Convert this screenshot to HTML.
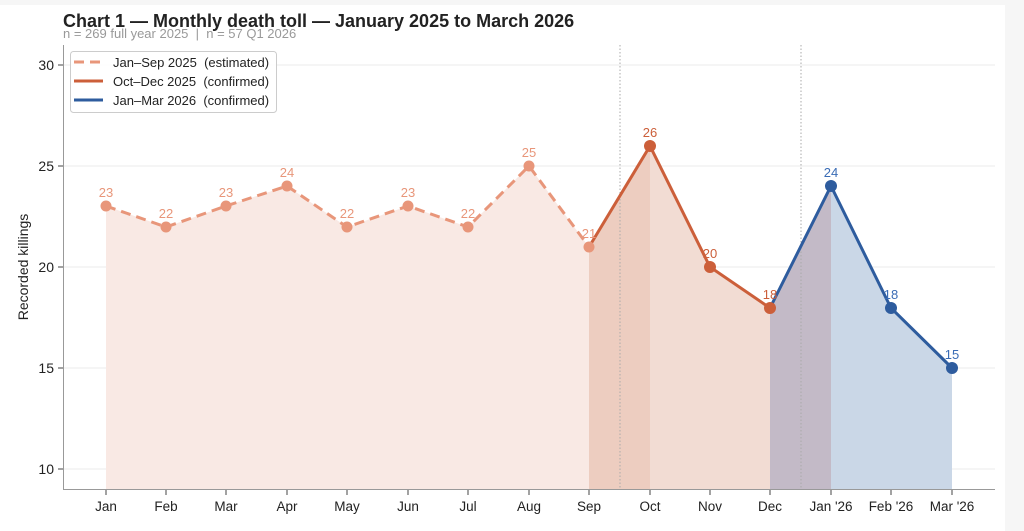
<!DOCTYPE html><html><head><meta charset="utf-8"><style>body{margin:0;background:#f6f6f6;font-family:"Liberation Sans",sans-serif}text{white-space:pre}</style></head><body>
<svg width="1024" height="531" style="position:absolute;left:0;top:0" font-family="Liberation Sans, sans-serif" xml:space="preserve">
<rect x="0" y="5" width="1005" height="526" fill="#fff"/>
<text x="63" y="27" font-size="18" font-weight="bold" fill="#222">Chart 1 — Monthly death toll — January 2025 to March 2026</text>
<text x="63" y="38" font-size="13" fill="#999">n = 269 full year 2025  |  n = 57 Q1 2026</text>
<g stroke="#ebebeb" stroke-width="1"><line x1="63" x2="995" y1="65" y2="65"/><line x1="63" x2="995" y1="166" y2="166"/><line x1="63" x2="995" y1="267" y2="267"/><line x1="63" x2="995" y1="368" y2="368"/><line x1="63" x2="995" y1="469" y2="469"/></g>
<polygon points="106,489 106,206 166,227 226,206 287,186 347,227 408,206 468,227 529,166 589,247 589,489" fill="#f9e9e4"/>
<polygon points="589,489 589,247 650,146 650,489" fill="#edcdc0"/>
<polygon points="650,489 650,146 710,267 770,308 770,489" fill="#f2dcd3"/>
<polygon points="770,489 770,308 831,186 831,489" fill="#c3bac7"/>
<polygon points="831,489 831,186 891,308 952,368 952,489" fill="#cad7e7"/>
<g stroke="#aaa" stroke-dasharray="1.5,2"><line x1="620" x2="620" y1="45" y2="489"/><line x1="801" x2="801" y1="45" y2="489"/></g>
<polyline points="106,206 166,227 226,206 287,186 347,227 408,206 468,227 529,166 589,247" fill="none" stroke="#e8967a" stroke-width="3" stroke-dasharray="10,6"/>
<polyline points="589,247 650,146 710,267 770,308" fill="none" stroke="#cc5f3a" stroke-width="3"/>
<polyline points="770,308 831,186 891,308 952,368" fill="none" stroke="#2e5c9e" stroke-width="3"/>
<g fill="#e8967a"><circle cx="106" cy="206" r="5.5"/><circle cx="166" cy="227" r="5.5"/><circle cx="226" cy="206" r="5.5"/><circle cx="287" cy="186" r="5.5"/><circle cx="347" cy="227" r="5.5"/><circle cx="408" cy="206" r="5.5"/><circle cx="468" cy="227" r="5.5"/><circle cx="529" cy="166" r="5.5"/><circle cx="589" cy="247" r="5.5"/></g>
<g fill="#cc5f3a"><circle cx="650" cy="146" r="6"/><circle cx="710" cy="267" r="6"/><circle cx="770" cy="308" r="6"/></g>
<g fill="#2e5c9e"><circle cx="831" cy="186" r="6"/><circle cx="891" cy="308" r="6"/><circle cx="952" cy="368" r="6"/></g>
<g font-size="13" text-anchor="middle" fill="#e8967a"><text x="106" y="197">23</text><text x="166" y="218">22</text><text x="226" y="197">23</text><text x="287" y="177">24</text><text x="347" y="218">22</text><text x="408" y="197">23</text><text x="468" y="218">22</text><text x="529" y="157">25</text><text x="589" y="238">21</text></g>
<g font-size="13" text-anchor="middle" fill="#cc5f3a"><text x="650" y="137">26</text><text x="710" y="258">20</text><text x="770" y="299">18</text></g>
<g font-size="13" text-anchor="middle" fill="#3a6cb5"><text x="831" y="177">24</text><text x="891" y="299">18</text><text x="952" y="359">15</text></g>
<g stroke="#999" stroke-width="1"><line x1="63.5" x2="63.5" y1="45" y2="489"/><line x1="63" x2="995" y1="489.5" y2="489.5"/></g>
<g stroke="#444"><line x1="58" x2="63" y1="65" y2="65"/><line x1="58" x2="63" y1="166" y2="166"/><line x1="58" x2="63" y1="267" y2="267"/><line x1="58" x2="63" y1="368" y2="368"/><line x1="58" x2="63" y1="469" y2="469"/></g>
<g font-size="14" text-anchor="end" fill="#222"><text x="54" y="70">30</text><text x="54" y="171">25</text><text x="54" y="272">20</text><text x="54" y="373">15</text><text x="54" y="474">10</text></g>
<g stroke="#444"><line x1="106" x2="106" y1="490" y2="495"/><line x1="166" x2="166" y1="490" y2="495"/><line x1="226" x2="226" y1="490" y2="495"/><line x1="287" x2="287" y1="490" y2="495"/><line x1="347" x2="347" y1="490" y2="495"/><line x1="408" x2="408" y1="490" y2="495"/><line x1="468" x2="468" y1="490" y2="495"/><line x1="529" x2="529" y1="490" y2="495"/><line x1="589" x2="589" y1="490" y2="495"/><line x1="650" x2="650" y1="490" y2="495"/><line x1="710" x2="710" y1="490" y2="495"/><line x1="770" x2="770" y1="490" y2="495"/><line x1="831" x2="831" y1="490" y2="495"/><line x1="891" x2="891" y1="490" y2="495"/><line x1="952" x2="952" y1="490" y2="495"/></g>
<g font-size="13.5" text-anchor="middle" fill="#222"><text x="106" y="511">Jan</text><text x="166" y="511">Feb</text><text x="226" y="511">Mar</text><text x="287" y="511">Apr</text><text x="347" y="511">May</text><text x="408" y="511">Jun</text><text x="468" y="511">Jul</text><text x="529" y="511">Aug</text><text x="589" y="511">Sep</text><text x="650" y="511">Oct</text><text x="710" y="511">Nov</text><text x="770" y="511">Dec</text><text x="831" y="511">Jan '26</text><text x="891" y="511">Feb '26</text><text x="952" y="511">Mar '26</text></g>
<text transform="translate(28,267) rotate(-90)" font-size="14" text-anchor="middle" fill="#222">Recorded killings</text>
<rect x="70.5" y="51.5" width="206" height="61" rx="3" fill="#fff" fill-opacity="0.9" stroke="#ccc"/>
<line x1="74" x2="103" y1="62" y2="62" stroke="#e8967a" stroke-width="3" stroke-dasharray="10,6"/>
<line x1="74" x2="103" y1="81" y2="81" stroke="#cc5f3a" stroke-width="3"/>
<line x1="74" x2="103" y1="100" y2="100" stroke="#2e5c9e" stroke-width="3"/>
<g font-size="13" fill="#222"><text x="113" y="67">Jan–Sep 2025  (estimated)</text><text x="113" y="86">Oct–Dec 2025  (confirmed)</text><text x="113" y="105">Jan–Mar 2026  (confirmed)</text></g>
</svg></body></html>
